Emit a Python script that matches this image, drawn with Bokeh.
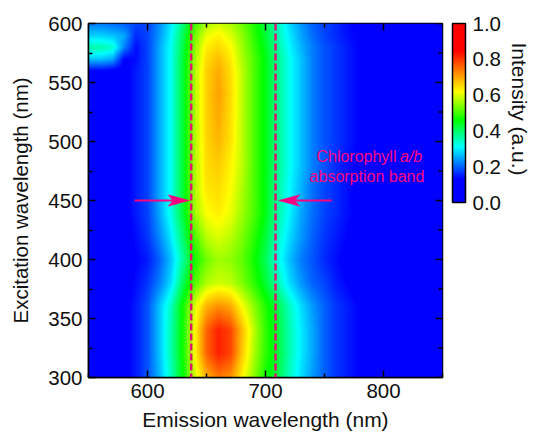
import numpy as np
from bokeh.plotting import figure
from bokeh.models import LinearColorMapper, ColorBar, FixedTicker, Range1d, Label, Span, PrintfTickFormatter, Title
from bokeh.embed import file_html
from bokeh.resources import INLINE

emission = [550,560,570,580,590,600,610,620,630,640,650,660,670,680,690,700,710,720,730,740,750,760,770,780,790,800,810,820,830,840,850]
excitation = [300,320,340,360,380,400,420,440,460,480,500,520,540,560,570,580,590,600]
intensity = [
 [.05,.07,.09,.12,.15,.19,.26,.35,.46,.59,.69,.74,.72,.63,.55,.47,.42,.35,.29,.24,.20,.17,.15,.13,.11,.09,.08,.06,.05,.05,.04],
 [.05,.07,.09,.12,.15,.19,.27,.36,.47,.62,.76,.82,.79,.67,.57,.49,.43,.36,.30,.25,.20,.17,.15,.13,.11,.09,.08,.06,.05,.05,.04],
 [.05,.07,.09,.12,.15,.19,.27,.36,.47,.62,.76,.82,.79,.68,.58,.49,.43,.36,.30,.25,.20,.17,.15,.13,.11,.09,.08,.06,.05,.05,.04],
 [.05,.07,.09,.12,.15,.19,.27,.35,.47,.60,.69,.72,.70,.62,.55,.48,.42,.35,.29,.24,.20,.17,.15,.13,.11,.09,.08,.06,.05,.05,.04],
 [.05,.06,.08,.11,.14,.17,.22,.29,.41,.51,.57,.59,.58,.54,.49,.43,.36,.29,.24,.20,.18,.15,.13,.11,.10,.08,.07,.06,.05,.04,.04],
 [.04,.06,.08,.10,.13,.15,.20,.27,.37,.47,.53,.56,.55,.52,.47,.41,.33,.27,.22,.19,.16,.14,.12,.11,.09,.08,.07,.05,.05,.04,.04],
 [.05,.06,.08,.11,.14,.17,.23,.30,.40,.51,.58,.60,.58,.54,.49,.43,.35,.29,.24,.20,.17,.15,.13,.11,.10,.08,.07,.06,.05,.04,.04],
 [.05,.07,.09,.12,.15,.18,.25,.33,.43,.56,.62,.635,.61,.56,.51,.45,.37,.31,.25,.21,.18,.16,.14,.12,.10,.09,.07,.06,.05,.05,.04],
 [.05,.07,.09,.12,.15,.18,.25,.32,.43,.57,.64,.65,.62,.57,.51,.45,.37,.31,.26,.21,.18,.16,.14,.12,.10,.09,.07,.06,.05,.05,.04],
 [.05,.07,.09,.12,.15,.18,.25,.32,.43,.57,.65,.665,.63,.58,.51,.45,.38,.32,.27,.22,.19,.16,.14,.12,.10,.09,.07,.06,.05,.05,.04],
 [.05,.07,.09,.12,.15,.18,.25,.32,.43,.57,.655,.685,.645,.58,.51,.45,.38,.32,.27,.22,.19,.17,.15,.13,.11,.10,.08,.07,.06,.05,.05],
 [.05,.07,.09,.12,.15,.18,.25,.32,.43,.57,.66,.695,.65,.58,.51,.45,.38,.32,.27,.22,.19,.17,.15,.13,.11,.10,.08,.07,.06,.05,.05],
 [.05,.07,.09,.12,.15,.18,.25,.32,.43,.57,.66,.705,.655,.58,.51,.45,.38,.32,.27,.22,.19,.17,.15,.13,.11,.10,.08,.07,.06,.05,.05],
 [.13,.13,.12,.12,.15,.18,.25,.32,.43,.57,.66,.695,.65,.58,.51,.45,.38,.32,.27,.22,.19,.17,.15,.13,.11,.10,.08,.07,.06,.05,.05],
 [.27,.27,.25,.13,.14,.18,.25,.32,.43,.56,.65,.68,.64,.57,.51,.45,.38,.32,.27,.22,.19,.17,.15,.13,.11,.10,.08,.07,.06,.05,.05],
 [.36,.36,.34,.22,.14,.18,.25,.32,.42,.55,.635,.655,.625,.56,.50,.44,.37,.31,.26,.22,.19,.17,.15,.13,.11,.10,.08,.07,.06,.05,.05],
 [.28,.28,.27,.25,.16,.18,.24,.31,.41,.53,.61,.63,.60,.55,.49,.43,.36,.30,.25,.21,.18,.16,.14,.13,.11,.10,.08,.07,.06,.05,.05],
 [.22,.22,.21,.20,.18,.18,.23,.30,.39,.50,.57,.59,.57,.53,.48,.42,.35,.29,.24,.20,.18,.16,.14,.12,.11,.09,.08,.07,.06,.05,.05],
]
x_ticks = [600, 700, 800]
x_minor = [550, 650, 750, 850]
y_ticks = [300, 350, 400, 450, 500, 550, 600]
y_minor = [325, 375, 425, 475, 525, 575]
cb_ticks = [0.0, 0.2, 0.4, 0.6, 0.8, 1.0]
band_edges = [637, 708.5]

stop_v = [0, .13, .31, .46, .62, .85, 1]
stop_r = [0, 0, 0, 0, 255, 255, 255]
stop_g = [0, 0, 255, 255, 255, 0, 0]
stop_b = [255, 255, 255, 0, 0, 0, 0]
t = np.linspace(0, 1, 256)
palette = ["#%02x%02x%02x" % (int(np.interp(v, stop_v, stop_r)), int(np.interp(v, stop_v, stop_g)), int(np.interp(v, stop_v, stop_b))) for v in t]

# display resampling of the table to the frame's pixels
Z = np.array(intensity)
xs = np.linspace(550, 850, 354)
ys = np.linspace(300, 600, 354)
tmp = np.array([np.interp(xs, emission, r) for r in Z])
img = np.array([np.interp(ys, excitation, tmp[:, j]) for j in range(len(xs))]).T

FONT = "Liberation Sans"
PINK = "#fb0080"
TEXT = "#111111"
mapper = LinearColorMapper(palette=palette, low=0, high=1)
p = figure(width=534, height=433, frame_width=354, frame_height=354,
           x_range=Range1d(550, 850), y_range=Range1d(300, 600),
           output_backend="svg", toolbar_location=None,
           min_border_left=88, min_border_top=23, min_border_right=0, min_border_bottom=56,
           x_axis_label="Emission wavelength (nm)", y_axis_label="Excitation wavelength (nm)")
p.grid.visible = False
p.outline_line_color = "black"
p.outline_line_width = 1.5
p.image(image=[img], x=550, y=300, dw=300, dh=300, color_mapper=mapper)

def style(ax, ticks, minor):
    ax.ticker = FixedTicker(ticks=ticks, minor_ticks=minor)
    ax.major_tick_in = 7
    ax.major_tick_out = 0
    ax.minor_tick_in = 4
    ax.minor_tick_out = 0
    ax.major_tick_line_width = 1.5
    ax.minor_tick_line_width = 1.5
    ax.axis_line_width = 1.5
    ax.major_label_text_font = FONT
    ax.major_label_text_color = TEXT
    ax.major_label_text_font_size = "20.5px"
    ax.major_label_standoff = 6
    ax.axis_label_text_font = FONT
    ax.axis_label_text_font_size = "20.5px"
    ax.axis_label_text_font_style = "normal"
    ax.axis_label_text_color = TEXT

style(p.xaxis[0], x_ticks, x_minor)
style(p.yaxis[0], y_ticks, y_minor)
p.xaxis[0].axis_label_text_font_size = "21px"
p.xaxis[0].axis_label_standoff = 7
p.yaxis[0].axis_label_standoff = 13

# mirrored ticks on the top and right edges (dash markers, clipped by the frame)
p.scatter(x=x_ticks, y=[600] * len(x_ticks), marker="dash", size=14, angle=np.pi / 2, line_color="black", line_width=1.5)
p.scatter(x=x_minor, y=[600] * len(x_minor), marker="dash", size=8, angle=np.pi / 2, line_color="black", line_width=1.5)
p.scatter(x=[850] * len(y_ticks), y=y_ticks, marker="dash", size=14, line_color="black", line_width=1.5)
p.scatter(x=[850] * len(y_minor), y=y_minor, marker="dash", size=8, line_color="black", line_width=1.5)

for e in band_edges:
    p.add_layout(Span(location=e, dimension="height", line_color="#e0146f", line_width=2.5, line_dash="7 3"))

# arrows: start, tip; head drawn as a slender stealth shape
arrow_y = 450
for start, tip in [(589, 635.5), (756, 711)]:
    d = 1 if tip > start else -1
    p.line([start, tip - d * 14], [arrow_y, arrow_y], line_color=PINK, line_width=2.2)
    p.patch([tip, tip - d * 18, tip - d * 14, tip - d * 18],
            [arrow_y, arrow_y + 4.8, arrow_y, arrow_y - 4.8], fill_color=PINK, line_color=PINK, line_width=0.5)

txt = dict(text_font=FONT, text_font_size="16px", text_color=PINK, text_baseline="middle")
p.add_layout(Label(x=786, y=470, text="absorption band", text_align="center", **txt))
p.add_layout(Label(x=811, y=487, text="Chlorophyll", text_align="right", **txt))
p.add_layout(Label(x=814, y=487, text="a/b", text_align="left", text_font_style="italic", **txt))

cb = ColorBar(color_mapper=mapper, width=13, height=179, location=(10, 175),
              ticker=FixedTicker(ticks=cb_ticks), formatter=PrintfTickFormatter(format="%.1f"),
              major_tick_line_color=None, minor_tick_line_color=None,
              major_label_text_font=FONT, major_label_text_font_size="20.5px", major_label_text_color=TEXT,
              bar_line_color="black", bar_line_width=1.5, border_line_color=None, background_fill_color=None,
              padding=0, label_standoff=7)
p.add_layout(cb, "right")
p.add_layout(Title(text="Intensity (a.u.)", align="left", offset=19, standoff=9, text_font=FONT,
                   text_font_size="21px", text_font_style="normal", text_color=TEXT), "right")

open("out.html", "w").write(file_html(p, INLINE))
